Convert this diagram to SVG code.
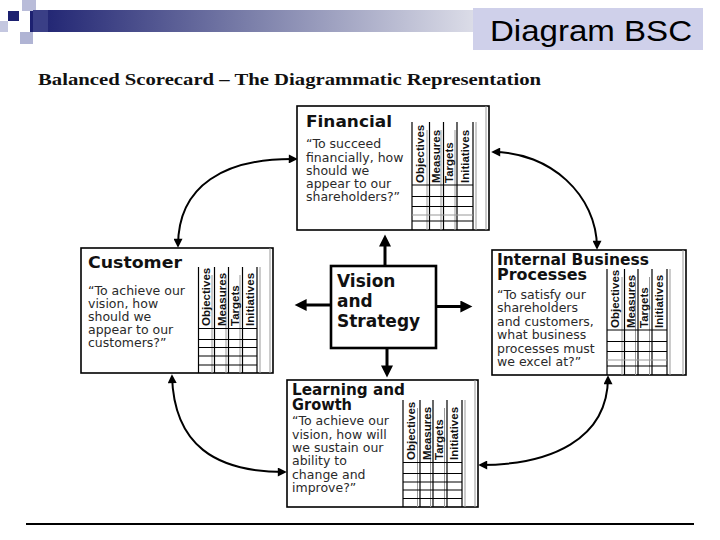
<svg xmlns="http://www.w3.org/2000/svg" width="720" height="540" viewBox="0 0 720 540">
<defs>
<linearGradient id="bar" x1="0" y1="0" x2="1" y2="0">
<stop offset="0" stop-color="#1c2070"/>
<stop offset="0.5" stop-color="#7c80aa"/>
<stop offset="1" stop-color="#dcdde8"/>
</linearGradient>
<marker id="ah" viewBox="0 0 10 10" refX="8" refY="5" markerWidth="11" markerHeight="9" orient="auto-start-reverse" markerUnits="userSpaceOnUse"><path d="M0,0 L10,5 L0,10 z" fill="#000"/></marker>
<marker id="ahb" viewBox="0 0 10 10" refX="3" refY="5" markerWidth="13" markerHeight="12" orient="auto" markerUnits="userSpaceOnUse"><path d="M0,0 L10,5 L0,10 z" fill="#000"/></marker>
</defs>
<style>
.box{fill:#fff;stroke:#000;stroke-width:1.6}
.vbox{fill:#fff;stroke:#000;stroke-width:2.6}
.gl{stroke:#000;stroke-width:1.2}
.gg{stroke:#999;stroke-width:1}
.ttl{font-family:"DejaVu Sans",sans-serif;font-weight:bold;font-size:15px;fill:#111}
.q{font-family:"DejaVu Sans",sans-serif;font-size:12.5px;fill:#2a2a2a}
.col{font-family:"Liberation Sans",Arial,sans-serif;font-weight:bold;font-size:11.5px;fill:#111}
.vt{font-family:"DejaVu Sans",sans-serif;font-weight:bold;font-size:17px;fill:#111}
.curve{fill:none;stroke:#000;stroke-width:2;marker-start:url(#ah);marker-end:url(#ah)}
.st{fill:none;stroke:#000;stroke-width:3;marker-end:url(#ahb)}
</style>
<rect width="720" height="540" fill="#fff"/>
<g id="header">
<rect x="30" y="10" width="445" height="22" fill="url(#bar)"/>
<rect x="22" y="0" width="14" height="11" fill="#b9bcd9"/>
<rect x="8" y="11" width="11" height="10" fill="#1c2070"/>
<rect x="0" y="21" width="8" height="11" fill="#c4c7e0"/>
<rect x="20" y="32" width="13" height="12" fill="#b0b4d4"/>
<rect x="33" y="10" width="15" height="22" fill="#3a3f86"/>
<rect x="473" y="8" width="230" height="42" fill="#cfd0ea"/>
<text x="490" y="41" font-family="Liberation Sans, Arial, sans-serif" font-size="30" textLength="202" lengthAdjust="spacingAndGlyphs" fill="#000">Diagram BSC</text>
<text x="38" y="85" font-family="Liberation Serif, Times New Roman, serif" font-weight="bold" font-size="17" textLength="503" lengthAdjust="spacingAndGlyphs" fill="#111">Balanced Scorecard – The Diagrammatic Representation</text>
<line x1="26" y1="524" x2="694" y2="524" stroke="#000" stroke-width="2"/>
</g>
<g id="connectors">
<path class="curve" d="M178,246 C178,185 225,158 296,159"/>
<path class="curve" d="M493,152 C550,152 597,195 597,248"/>
<path class="curve" d="M172,376 C174,445 215,472 285,472"/>
<path class="curve" d="M608,377 C608,440 550,465 480,465"/>
<line class="st" x1="385" y1="266" x2="385" y2="243"/>
<line class="st" x1="387" y1="348" x2="387" y2="369"/>
<line class="st" x1="331" y1="305" x2="303" y2="305"/>
<line class="st" x1="436" y1="306.5" x2="464" y2="306.5"/>
</g>
<g id="financial">
<rect class="box" x="297" y="106" width="192" height="124"/>
<line class="gg" x1="486" y1="106" x2="486" y2="230"/>
<g>
<line class="gl" x1="412" y1="122" x2="412" y2="230"/>
<line class="gl" x1="429.5" y1="122" x2="429.5" y2="230"/>
<line class="gl" x1="443.5" y1="122" x2="443.5" y2="230"/>
<line class="gl" x1="457" y1="122" x2="457" y2="230"/>
<line class="gl" x1="473" y1="122" x2="473" y2="230"/>
<line class="gg" x1="427" y1="130" x2="427" y2="230"/>
<line class="gg" x1="441" y1="130" x2="441" y2="230"/>
<line class="gg" x1="455" y1="130" x2="455" y2="230"/>
<line class="gg" x1="476" y1="122" x2="476" y2="230"/>
<line class="gl" x1="412" y1="185" x2="473" y2="185"/>
<line class="gl" x1="412" y1="196.5" x2="473" y2="196.5"/>
<line class="gl" x1="412" y1="206.5" x2="473" y2="206.5"/>
<line class="gg" x1="412" y1="215" x2="473" y2="215"/>
<line class="gl" x1="412" y1="221" x2="473" y2="221"/>
</g>
<text class="col" transform="translate(423.5,183) rotate(-90)">Objectives</text>
<text class="col" transform="translate(440,183) rotate(-90)">Measures</text>
<text class="col" transform="translate(453,183) rotate(-90)">Targets</text>
<text class="col" transform="translate(468.5,183) rotate(-90)">Initiatives</text>
<text class="ttl" x="306" y="127" textLength="86" lengthAdjust="spacingAndGlyphs">Financial</text>
<text class="q" x="306" y="148">“To succeed</text>
<text class="q" x="306" y="161.5">financially, how</text>
<text class="q" x="306" y="175">should we</text>
<text class="q" x="306" y="187.5">appear to our</text>
<text class="q" x="306" y="200.5">shareholders?”</text>
</g>
<g id="customer">
<rect class="box" x="81" y="248" width="192" height="125"/>
<line class="gg" x1="270" y1="248" x2="270" y2="373"/>
<g>
<line class="gl" x1="198.5" y1="267" x2="198.5" y2="373"/>
<line class="gl" x1="214.5" y1="267" x2="214.5" y2="373"/>
<line class="gl" x1="228.5" y1="267" x2="228.5" y2="373"/>
<line class="gl" x1="242.5" y1="267" x2="242.5" y2="373"/>
<line class="gl" x1="257" y1="267" x2="257" y2="373"/>
<line class="gg" x1="212" y1="275" x2="212" y2="373"/>
<line class="gg" x1="226" y1="275" x2="226" y2="373"/>
<line class="gg" x1="240" y1="275" x2="240" y2="373"/>
<line class="gg" x1="260" y1="267" x2="260" y2="373"/>
<line class="gl" x1="198.5" y1="328.5" x2="257" y2="328.5"/>
<line class="gl" x1="198.5" y1="339.5" x2="257" y2="339.5"/>
<line class="gl" x1="198.5" y1="347.5" x2="257" y2="347.5"/>
<line class="gl" x1="198.5" y1="356" x2="257" y2="356"/>
<line class="gl" x1="198.5" y1="365" x2="257" y2="365"/>
</g>
<text class="col" transform="translate(210,326) rotate(-90)">Objectives</text>
<text class="col" transform="translate(225.5,326) rotate(-90)">Measures</text>
<text class="col" transform="translate(238.5,326) rotate(-90)">Targets</text>
<text class="col" transform="translate(254,326) rotate(-90)">Initiatives</text>
<text class="ttl" x="88" y="268" textLength="94" lengthAdjust="spacingAndGlyphs">Customer</text>
<text class="q" x="88" y="295">“To achieve our</text>
<text class="q" x="88" y="308">vision, how</text>
<text class="q" x="88" y="321">should we</text>
<text class="q" x="88" y="334">appear to our</text>
<text class="q" x="88" y="347">customers?”</text>
</g>
<g id="internal">
<rect class="box" x="492" y="250" width="194" height="125"/>
<line class="gg" x1="683" y1="250" x2="683" y2="375"/>
<g>
<line class="gl" x1="607" y1="269" x2="607" y2="375"/>
<line class="gl" x1="624.5" y1="269" x2="624.5" y2="375"/>
<line class="gl" x1="638" y1="269" x2="638" y2="375"/>
<line class="gl" x1="652" y1="269" x2="652" y2="375"/>
<line class="gl" x1="667" y1="269" x2="667" y2="375"/>
<line class="gg" x1="622" y1="277" x2="622" y2="375"/>
<line class="gg" x1="635.5" y1="277" x2="635.5" y2="375"/>
<line class="gg" x1="649.5" y1="277" x2="649.5" y2="375"/>
<line class="gg" x1="670" y1="269" x2="670" y2="375"/>
<line class="gl" x1="607" y1="330" x2="667" y2="330"/>
<line class="gl" x1="607" y1="341.5" x2="667" y2="341.5"/>
<line class="gl" x1="607" y1="351.5" x2="667" y2="351.5"/>
<line class="gg" x1="607" y1="360" x2="667" y2="360"/>
<line class="gl" x1="607" y1="366" x2="667" y2="366"/>
</g>
<text class="col" transform="translate(618.5,328) rotate(-90)">Objectives</text>
<text class="col" transform="translate(635,328) rotate(-90)">Measures</text>
<text class="col" transform="translate(648,328) rotate(-90)">Targets</text>
<text class="col" transform="translate(663,328) rotate(-90)">Initiatives</text>
<text class="ttl" x="497" y="265" textLength="152" lengthAdjust="spacingAndGlyphs">Internal Business</text>
<text class="ttl" x="497" y="280" textLength="90" lengthAdjust="spacingAndGlyphs">Processes</text>
<text class="q" x="497" y="298.5">“To satisfy our</text>
<text class="q" x="497" y="312">shareholders</text>
<text class="q" x="497" y="325.5">and customers,</text>
<text class="q" x="497" y="339">what business</text>
<text class="q" x="497" y="352.5">processes must</text>
<text class="q" x="497" y="366">we excel at?”</text>
</g>
<g id="learning">
<rect class="box" x="287" y="380" width="191" height="127"/>
<line class="gg" x1="475" y1="380" x2="475" y2="507"/>
<g>
<line class="gl" x1="403" y1="400" x2="403" y2="507"/>
<line class="gl" x1="420" y1="400" x2="420" y2="507"/>
<line class="gl" x1="433" y1="400" x2="433" y2="507"/>
<line class="gl" x1="447" y1="400" x2="447" y2="507"/>
<line class="gl" x1="462" y1="400" x2="462" y2="507"/>
<line class="gg" x1="417.5" y1="408" x2="417.5" y2="507"/>
<line class="gg" x1="430.5" y1="408" x2="430.5" y2="507"/>
<line class="gg" x1="444.5" y1="408" x2="444.5" y2="507"/>
<line class="gg" x1="465" y1="400" x2="465" y2="507"/>
<line class="gl" x1="403" y1="462.5" x2="462" y2="462.5"/>
<line class="gl" x1="403" y1="473.5" x2="462" y2="473.5"/>
<line class="gl" x1="403" y1="482" x2="462" y2="482"/>
<line class="gl" x1="403" y1="490" x2="462" y2="490"/>
<line class="gl" x1="403" y1="498.5" x2="462" y2="498.5"/>
</g>
<text class="col" transform="translate(414.5,460) rotate(-90)">Objectives</text>
<text class="col" transform="translate(430.5,460) rotate(-90)">Measures</text>
<text class="col" transform="translate(443,460) rotate(-90)">Targets</text>
<text class="col" transform="translate(458,460) rotate(-90)">Initiatives</text>
<text class="ttl" x="292" y="395" textLength="113" lengthAdjust="spacingAndGlyphs">Learning and</text>
<text class="ttl" x="292" y="410" textLength="60" lengthAdjust="spacingAndGlyphs">Growth</text>
<text class="q" x="292" y="425">“To achieve our</text>
<text class="q" x="292" y="438.5">vision, how will</text>
<text class="q" x="292" y="452">we sustain our</text>
<text class="q" x="292" y="465">ability to</text>
<text class="q" x="292" y="478.5">change and</text>
<text class="q" x="292" y="492">improve?”</text>
</g>
<g id="vision">
<rect class="vbox" x="331" y="266" width="105" height="82"/>
<text class="vt" x="337" y="287">Vision</text>
<text class="vt" x="337" y="307">and</text>
<text class="vt" x="337" y="327">Strategy</text>
</g>
</svg>
